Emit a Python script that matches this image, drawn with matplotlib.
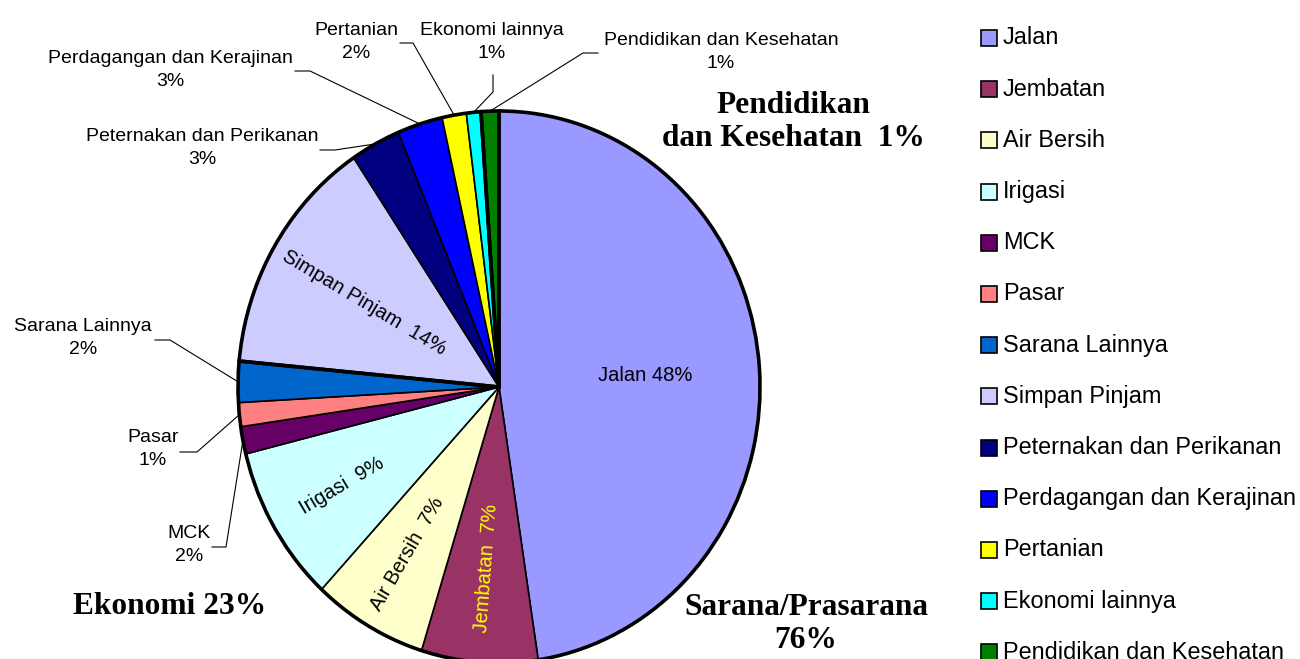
import numpy as np
import matplotlib
matplotlib.use('Agg')
import matplotlib.pyplot as plt
from matplotlib.patches import Rectangle

# data
categories = ['Jalan', 'Jembatan', 'Air Bersih', 'Irigasi', 'MCK', 'Pasar', 'Sarana Lainnya',
              'Simpan Pinjam', 'Peternakan dan Perikanan', 'Perdagangan dan Kerajinan',
              'Pertanian', 'Ekonomi lainnya', 'Pendidikan dan Kesehatan']
values = [47.6, 7.2, 7.1, 9.2, 1.6, 1.4, 2.4, 14.1, 3.1, 2.8, 1.5, 0.9, 1.1]
pct_labels = ['48%', '7%', '7%', '9%', '2%', '1%', '2%', '14%', '3%', '3%', '2%', '1%', '1%']
colors = ['#9999FF', '#993366', '#FFFFCC', '#CCFFFF', '#660066', '#FF8080', '#0066CC',
          '#CCCCFF', '#000080', '#0000FF', '#FFFF00', '#00FFFF', '#008000']

groups = ['Sarana/Prasarana', 'Ekonomi', 'Pendidikan\ndan Kesehatan']
group_size = [7, 5, 1]  # number of categories in each group
group_pct = ['76%', '23%', '1%']

SANS = 'Liberation Sans'
SERIF = 'Liberation Serif'

# layout: pie centre and radii in pixels of the 1300x659 picture
W, H = 1300, 659
CX, CY, RX, RY = 499, 387, 261, 276


def px(x, y):
    # picture pixel -> data coords (pie radius = 1)
    return (x - CX) / RX, (CY - y) / RY


fig = plt.figure(figsize=(W / 100, H / 100), dpi=100)
ax = fig.add_axes([0, 0, 1, 1])

wedges, _ = ax.pie(values, colors=colors, startangle=90, counterclock=False,
                   wedgeprops=dict(edgecolor='black', linewidth=1.2))

# thicker boundaries between the groups
group_vals = []
k = 0
for n in group_size:
    group_vals.append(sum(values[k:k + n]))
    k += n
ax.pie(group_vals, startangle=90, counterclock=False,
       wedgeprops=dict(facecolor='none', edgecolor='black', linewidth=2.6))

ax.set_aspect('auto')
ax.set_xlim(-CX / RX, (W - CX) / RX)
ax.set_ylim(-(H - CY) / RY, CY / RY)
ax.axis('off')


def mid_angle(w):
    return np.deg2rad((w.theta1 + w.theta2) / 2)


# labels inside the slices: (index, distance, rotate, colour)
inside = [(0, 0.56, False, 'black'), (1, 0.66, True, '#FFFF00'), (2, 0.70, True, 'black'),
          (3, 0.70, True, 'black'), (7, 0.60, True, 'black')]
for i, dist, rot, col in inside:
    a = mid_angle(wedges[i])
    deg = np.rad2deg(a) % 360
    r = 0
    if rot:
        r = deg - 180 if 90 < deg < 270 else deg
    sep = ' ' if i == 0 else '  '
    ax.text(dist * np.cos(a), dist * np.sin(a), categories[i] + sep + pct_labels[i],
            rotation=r, rotation_mode='anchor', ha='center', va='center',
            fontsize=14.5, color=col, family=SANS)

# labels outside with leader lines: index -> (text centre, line end, elbow)
outside = {
    12: ((721, 52), (598, 53), (583, 53)),
    11: ((492, 42), (493, 75), (493, 92)),
    10: ((356, 42), (400, 43), (413, 43)),
    9: ((170, 70), (295, 71), (310, 71)),
    8: ((202, 148), (320, 150), (335, 150)),
    6: ((83, 338), (155, 340), (170, 340)),
    5: ((153, 449), (180, 452), (197, 452)),
    4: ((189, 545), (212, 547), (226, 547)),
}
for i, (tc, end, elbow) in outside.items():
    a = mid_angle(wedges[i])
    ax.text(*px(*tc), categories[i] + '\n' + pct_labels[i], ha='center', va='center',
            multialignment='center', linespacing=1.45, fontsize=14, family=SANS)
    x0, y0 = px(*end)
    x1, y1 = px(*elbow)
    ax.plot([x0, x1, np.cos(a)], [y0, y1, np.sin(a)], color='black', lw=0.8)

# group totals in bold serif
group_pos = [(806, 624), (170, 606), (793, 122)]
for g, p, pos in zip(groups, group_pct, group_pos):
    txt = g + ('\n' if g.startswith('Sarana') else (' ' if g == 'Ekonomi' else '  ')) + p
    ax.text(*px(*pos), txt, ha='center', va='center', multialignment='center',
            fontsize=22.6, fontweight='bold', family=SERIF)

# legend drawn by hand
for i, name in enumerate(categories):
    ly = 38 + i * 51.2
    x0, y0 = px(981, ly + 8)
    ax.add_patch(Rectangle((x0, y0), 16 / RX, 16 / RY, facecolor=colors[i],
                           edgecolor='black', lw=1.2, clip_on=False))
    ax.text(*px(1003, ly), name, ha='left', va='center', fontsize=16.9, family=SANS)

fig.savefig('out.png', dpi=100)
